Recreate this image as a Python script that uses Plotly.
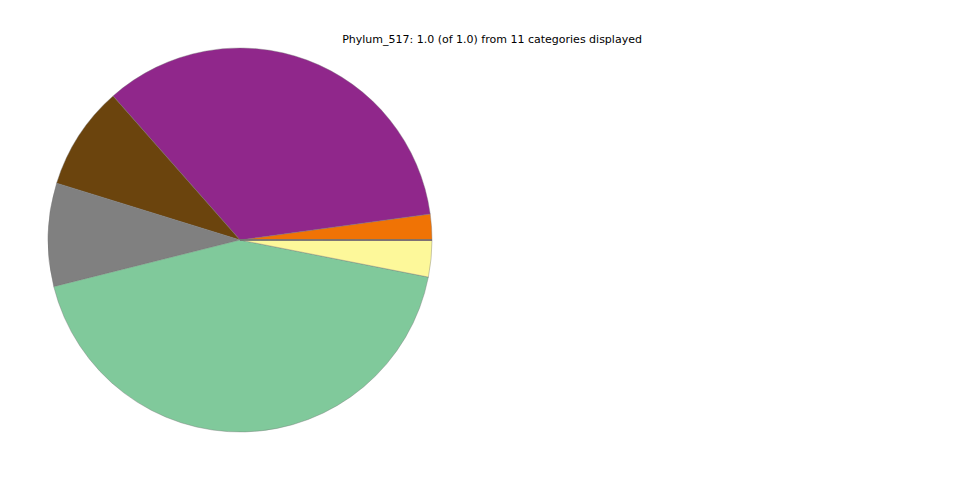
import plotly.graph_objects as go

labels = ["Phylum_A", "Phylum_B", "Phylum_C", "Phylum_D", "Phylum_E", "Phylum_F",
          "Phylum_G", "Phylum_H", "Phylum_I", "Phylum_J", "Phylum_K"]
values = [0.0217, 0.3433, 0.0872, 0.0869, 0.4300, 0.0307,
          0.00005, 0.00005, 0.00005, 0.00005, 0.00004]
colors = ["#f07305", "#90278b", "#6b440d", "#808080", "#80c99b", "#fdf89a",
          "#bf5b17", "#386cb0", "#f0027f", "#666666", "#beaed4"]
title = "Phylum_517: 1.0 (of 1.0) from 11 categories displayed"

fig = go.Figure(go.Pie(
    labels=labels, values=values, sort=False,
    direction="counterclockwise", rotation=90 - 360 * values[0],
    marker=dict(colors=colors, line=dict(color="#777777", width=0.4)),
    textinfo="none", showlegend=False,
    domain=dict(x=[0.04167, 0.44167], y=[0.11667, 0.91667]),
))
fig.update_layout(
    width=960, height=480,
    margin=dict(l=0, r=0, t=0, b=0),
    paper_bgcolor="white", plot_bgcolor="white",
    title=dict(text=title, x=0.5042, y=0.9354, xanchor="center", yanchor="middle",
               font=dict(family="DejaVu Sans", size=11, color="black")),
)
fig.write_html("out.html")
